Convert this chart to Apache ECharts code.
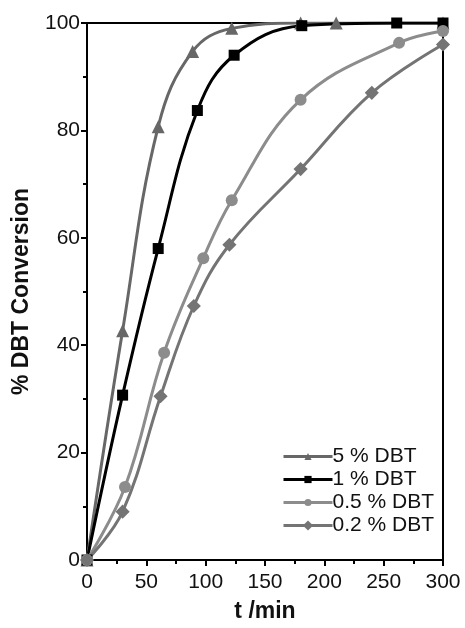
<!DOCTYPE html>
<html>
<head>
<meta charset="utf-8">
<script src="https://cdn.jsdelivr.net/npm/echarts@6/dist/echarts.min.js"></script>
<style>
  html, body { margin: 0; padding: 0; background: #fff; }
  #chart { width: 465px; height: 628px; }
</style>
</head>
<body>
<div id="chart"></div>
<script>
// 读图得到的数据 (t /min, % DBT Conversion)
const seriesNames = ['5 % DBT', '1 % DBT', '0.5 % DBT', '0.2 % DBT']
const t5 = [0, 30, 60, 89, 122, 180, 210, 300]
const y5 = [0, 42.7, 80.7, 94.7, 99, 100, 100, 100]
const t1 = [0, 30, 60, 93, 124, 181, 261, 300]
const y1 = [0, 30.7, 58, 83.7, 94, 99.5, 100, 100]
const t05 = [0, 32, 65, 98, 122, 180, 263, 300]
const y05 = [0, 13.6, 38.6, 56.2, 67, 85.7, 96.3, 98.5]
const t02 = [0, 30, 62, 90, 120, 180, 240, 300]
const y02 = [0, 9, 30.5, 47.3, 58.7, 72.8, 87, 96]
const xTicks = [0, 50, 100, 150, 200, 250, 300]
const yTicks = [0, 20, 40, 60, 80, 100]

const pair = (xs, ys) => xs.map((x, i) => [x, ys[i]])

const font = 'Liberation Sans, Arial, sans-serif'

const makeSeries = (name, data, color, symbol, size, rotate) => ({
  name: name,
  type: 'line',
  data: data,
  smooth: 0.4,
  symbol: symbol,
  symbolSize: size,
  symbolRotate: rotate || 0,
  showAllSymbol: true,
  lineStyle: { color: color, width: 3 },
  itemStyle: { color: color },
  z: 3
})

const chart = echarts.init(document.getElementById('chart'), null, { renderer: 'canvas' })

chart.setOption({
  animation: false,
  backgroundColor: '#fff',
  grid: {
    left: 87, right: 22, top: 23, bottom: 68,
    show: true, borderColor: '#000', borderWidth: 2, backgroundColor: 'transparent'
  },
  legend: {
    left: 277, top: 441, orient: 'vertical',
    itemWidth: 49, itemHeight: 9, itemGap: 2,
    lineStyle: { width: 3 },
    textStyle: { fontFamily: font, fontSize: 21, color: '#111', padding: [0, 0, 0, -5] },
    data: seriesNames
  },
  xAxis: {
    type: 'value', min: 0, max: 300, interval: 50,
    name: 't /min', nameLocation: 'middle', nameGap: 40,
    nameTextStyle: { fontFamily: font, fontSize: 23, fontWeight: 'bold', color: '#111' },
    axisLine: { show: true, lineStyle: { color: '#000', width: 2 } },
    axisTick: { show: true, inside: false, length: 6, lineStyle: { color: '#000', width: 2 } },
    minorTick: { show: true, splitNumber: 2, length: 4, lineStyle: { color: '#000', width: 2 } },
    axisLabel: {
      fontFamily: font, fontSize: 21, color: '#111', margin: 12,
      formatter: v => xTicks.includes(v) ? String(v) : ''
    },
    splitLine: { show: false }
  },
  yAxis: {
    type: 'value', min: 0, max: 100, interval: 20,
    name: '% DBT Conversion', nameLocation: 'middle', nameGap: 54,
    nameTextStyle: { fontFamily: font, fontSize: 23, fontWeight: 'bold', color: '#111' },
    axisLine: { show: true, lineStyle: { color: '#000', width: 2 } },
    axisTick: { show: true, inside: false, length: 6, lineStyle: { color: '#000', width: 2 } },
    minorTick: { show: true, splitNumber: 2, length: 4, lineStyle: { color: '#000', width: 2 } },
    axisLabel: {
      fontFamily: font, fontSize: 21, color: '#111', margin: 7,
      formatter: v => yTicks.includes(v) ? String(v) : ''
    },
    splitLine: { show: false }
  },
  series: [
    makeSeries(seriesNames[0], pair(t5, y5), '#676767', 'triangle', 13),
    makeSeries(seriesNames[1], pair(t1, y1), '#000000', 'rect', 11),
    makeSeries(seriesNames[2], pair(t05, y05), '#8c8c8c', 'circle', 12),
    makeSeries(seriesNames[3], pair(t02, y02), '#747474', 'rect', 10, 45)
  ]
})
</script>
</body>
</html>
